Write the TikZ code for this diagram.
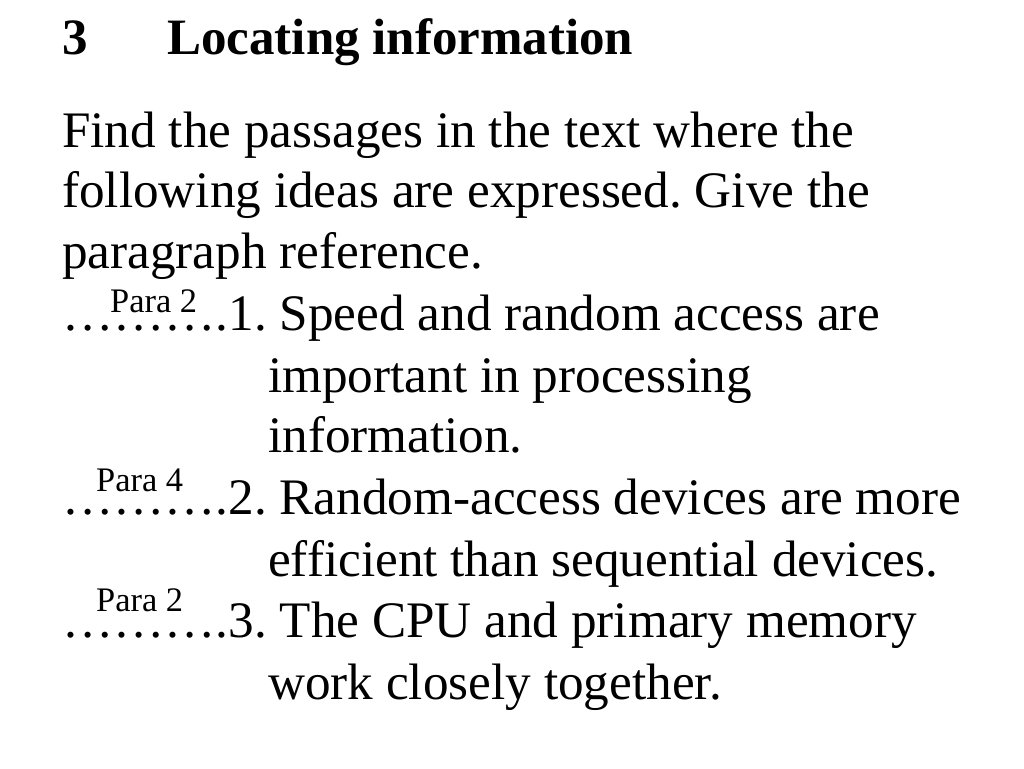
\documentclass[tikz,border=0pt]{standalone}
\usepackage{fontspec}
\setmainfont{Liberation Serif}
\begin{document}
\frenchspacing
\begin{tikzpicture}[x=1pt,y=-1pt,
  body/.style={anchor=base west,inner sep=0pt,font=\fontsize{51.2}{60}\selectfont\frenchspacing},
  ttl/.style={anchor=base west,inner sep=0pt,font=\fontsize{51}{60}\selectfont\bfseries},
  lbl/.style={anchor=base west,inner sep=0pt,font=\fontsize{34.4}{40}\selectfont}]
\useasboundingbox[fill=white] (0,0) rectangle (1024,768);
\node[ttl] (num) at (62,55) {3};
\node[ttl] (title) at (167,55) {Locating information};
\node[body] (l1) at (62,147) {Find the passages in the text where the};
\node[body] (l2) at (62,207) {following ideas are expressed. Give the};
\node[body] (l3) at (62,268) {paragraph reference.};
\node[body] (l4) at (62,330) {……….1. Speed and random access are};
\node[body] (l5) at (268,392) {important in processing};
\node[body] (l6) at (268,452) {information.};
\node[body] (l7) at (62,514) {……….2. Random-access devices are more};
\node[body] (l8) at (268,576) {efficient than sequential devices.};
\node[body] (l9) at (62,637) {……….3. The CPU and primary memory};
\node[body] (l10) at (268,699) {work closely together.};
\node[lbl] (p1) at (110,312) {Para 2};
\node[lbl] (p2) at (96,491) {Para 4};
\node[lbl] (p3) at (96,611) {Para 2};
\end{tikzpicture}
\end{document}
